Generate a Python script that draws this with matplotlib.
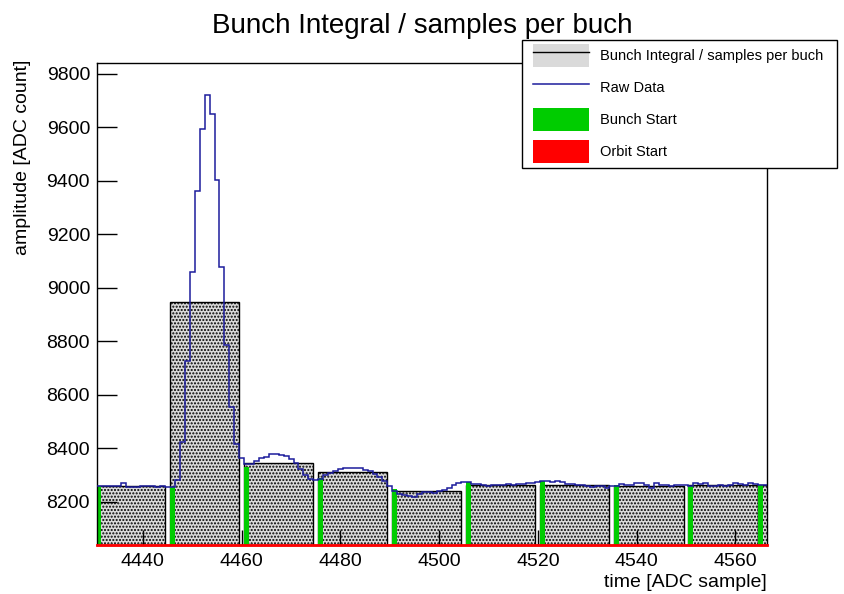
import numpy as np
import matplotlib
matplotlib.use("Agg")
import matplotlib.pyplot as plt
from matplotlib.patches import Patch, Rectangle
from matplotlib.lines import Line2D

plt.rcParams['font.family'] = ['Liberation Sans', 'DejaVu Sans']

# ---------------- data ----------------
first_sample = 4431
raw_data = [
    8260, 8260, 8260, 8260, 8260, 8269, 8256, 8256, 8256, 8258,   # 4431-4440
    8258, 8258, 8256, 8259, 8254, 8254, 8281, 8425, 8728, 9060,   # 4441-4450
    9362, 9596, 9720, 9650, 9402, 9079, 8787, 8554, 8415, 8363,   # 4451-4460
    8340, 8340, 8352, 8362, 8368, 8380, 8380, 8376, 8370, 8358,   # 4461-4470
    8345, 8322, 8300, 8285, 8282, 8286, 8300, 8306, 8316, 8322,   # 4471-4480
    8325, 8326, 8326, 8325, 8318, 8314, 8304, 8292, 8278, 8258,   # 4481-4490
    8240, 8228, 8225, 8220, 8218, 8230, 8236, 8237, 8233, 8240,   # 4491-4500
    8245, 8252, 8262, 8270, 8273, 8273, 8266, 8268, 8263, 8257,   # 4501-4510
    8262, 8263, 8262, 8265, 8263, 8268, 8268, 8269, 8270, 8275,   # 4511-4520
    8278, 8278, 8275, 8278, 8275, 8268, 8265, 8263, 8263, 8259,   # 4521-4530
    8256, 8258, 8257, 8253, 8257, 8260, 8265, 8263, 8263, 8269,   # 4531-4540
    8269, 8263, 8253, 8269, 8263, 8263, 8260, 8263, 8263, 8263,   # 4541-4550
    8260, 8269, 8266, 8269, 8260, 8259, 8261, 8260, 8262, 8269,   # 4551-4560
    8268, 8263, 8269, 8266, 8262, 8263,                           # 4561-4566
]
bunch_starts = [4431, 4446, 4461, 4476, 4491, 4506, 4521, 4536, 4551, 4565]
bunch_integral = [8260, 8948, 8344, 8310, 8241, 8263, 8262, 8260, 8262, 8262]
bunch_start_height = [8260, 8256, 8331, 8288, 8248, 8275, 8278, 8261, 8260, 8261]
samples_per_bunch = 14

x_ticks = [4440, 4460, 4480, 4500, 4520, 4540, 4560]
y_ticks = [8200, 8400, 8600, 8800, 9000, 9200, 9400, 9600, 9800]
x_range = (4430.7, 4566.4)
y_range = (8038, 9840)

title = "Bunch Integral / samples per buch"
xlabel = "time [ADC sample]"
ylabel = "amplitude [ADC count]"
legend_labels = ["Bunch Integral / samples per buch", "Raw Data", "Bunch Start", "Orbit Start"]

# ---------------- styles ----------------
c_raw = '#1c1c9c'
c_green = '#00cc00'
c_red = '#ff0000'
hatch_face = '#dadada'

W, H = 844, 594
fig = plt.figure(figsize=(W / 100, H / 100), dpi=100)
ax = fig.add_axes([97 / W, 1 - 545 / H, 670 / W, (545 - 63.3) / H])

# bunch integral boxes
starts = np.array(bunch_starts, dtype=float)
ax.bar(starts - 0.5, bunch_integral, width=samples_per_bunch, align='edge',
       facecolor=hatch_face, edgecolor='black', hatch='.....', linewidth=1.0,
       zorder=1)

# bunch start bars
ax.bar(starts - 0.5, bunch_start_height, width=1.0, align='edge',
       color=c_green, linewidth=0, zorder=2)

# raw data
raw = np.array(raw_data, dtype=float)
edges = np.arange(first_sample - 0.5, first_sample + len(raw) + 0.5, 1.0)
ax.stairs(raw, edges, baseline=None, color=c_raw, linewidth=1.1, zorder=3)

# orbit start (at axis bottom)
ax.axhline(y_range[0], color=c_red, linewidth=2.0, zorder=4, clip_on=False)

ax.set_xlim(*x_range)
ax.set_ylim(*y_range)
ax.set_xticks(x_ticks)
ax.set_yticks(y_ticks)
ax.tick_params(axis='x', direction='in', length=10.8, width=1, labelsize=14,
               pad=6, top=False)
ax.tick_params(axis='y', direction='in', length=14.4, width=1, labelsize=14,
               pad=5, right=False)
for s in ax.spines.values():
    s.set_linewidth(1.0)

ax.set_xlabel(xlabel, fontsize=14)
ax.xaxis.set_label_coords(1.0, -(574 - 545) / 481.7)
ax.xaxis.label.set_horizontalalignment('right')
ax.xaxis.label.set_verticalalignment('top')
ax.set_ylabel(ylabel, fontsize=14)
ax.yaxis.set_label_coords(-0.098, 1.008)
ax.yaxis.label.set_verticalalignment('bottom')
ax.yaxis.label.set_horizontalalignment('right')

fig.text(0.5, 1 - 33 / H, title, ha='center', va='baseline', fontsize=20)

# legend frame + legend
frame = Rectangle((522 / W, 1 - 168 / H), 315 / W, 128 / H,
                  transform=fig.transFigure, facecolor='white',
                  edgecolor='black', linewidth=1.0, zorder=4)
fig.add_artist(frame)
h1 = (Patch(facecolor=hatch_face, edgecolor='none', hatch='.....'),
      Line2D([], [], color='black', linewidth=1))
h2 = Line2D([], [], color=c_raw, linewidth=1.1)
h3 = Patch(facecolor=c_green, edgecolor='none')
h4 = Patch(facecolor=c_red, edgecolor='none')
leg = fig.legend([h1, h2, h3, h4], legend_labels, loc='upper left',
                 bbox_to_anchor=(533 / W, 1 - 44 / H),
                 fontsize=10.5, frameon=False, borderaxespad=0,
                 handlelength=3.85, handleheight=2.05, handletextpad=0.75,
                 borderpad=0, labelspacing=0.62)
leg.set_zorder(5)

fig.savefig('out.png', dpi=100)
